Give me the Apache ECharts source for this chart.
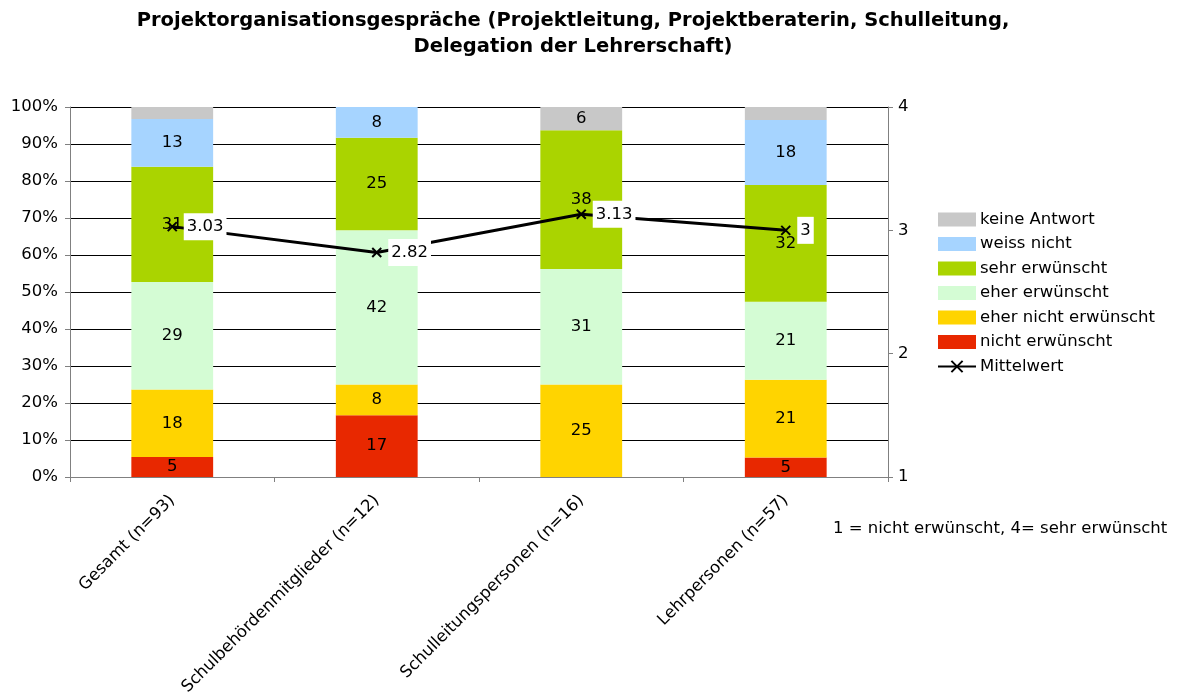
<!DOCTYPE html>
<html><head><meta charset="utf-8">
<script src="https://cdn.jsdelivr.net/npm/echarts@6/dist/echarts.min.js"></script>
<style>html,body{margin:0;padding:0;background:#fff}#c{width:1178px;height:695px}</style>
</head><body><div id="c"></div>
<script>
const categories = ['Gesamt (n=93)', 'Schulbehördenmitglieder (n=12)', 'Schulleitungspersonen (n=16)', 'Lehrpersonen (n=57)'];
const nichtErwuenscht = [5.38, 16.67, 0, 5.26];
const eherNichtErwuenscht = [18.28, 8.33, 25.0, 21.05];
const eherErwuenscht = [29.03, 41.67, 31.25, 21.05];
const sehrErwuenscht = [31.18, 25.0, 37.5, 31.58];
const weissNicht = [12.90, 8.33, 0, 17.54];
const keineAntwort = [3.23, 0, 6.25, 3.51];
const mittelwert = [3.03, 2.82, 3.13, 3];
const leftTicks = ['0%','10%','20%','30%','40%','50%','60%','70%','80%','90%','100%'];

const FONT = '"DejaVu Sans", sans-serif';
const FS = 16.5;
const chart = echarts.init(document.getElementById('c'));

function barSeries(name, data, color) {
  return {
    name, type: 'bar', stack: 'a', data, barWidth: '40%',
    itemStyle: { color },
    label: {
      show: true, position: 'inside', color: '#000', fontFamily: FONT, fontSize: FS,
      formatter: p => p.value >= 4 ? Math.round(p.value) : ''
    },
    emphasis: { disabled: true }
  };
}

chart.setOption({
  animation: false,
  title: {
    text: 'Projektorganisationsgespräche (Projektleitung, Projektberaterin, Schulleitung,\nDelegation der Lehrerschaft)',
    left: 568, top: 3, textAlign: 'center',
    textStyle: { fontFamily: FONT, fontWeight: 'bold', fontSize: 19.5, lineHeight: 26, color: '#000' }
  },
  grid: { left: 70, right: 290, top: 107, bottom: 218, outerBoundsMode: 'none', containLabel: false },
  legend: {
    orient: 'vertical', left: 932, top: 206, itemWidth: 38, itemHeight: 14, itemGap: 7.5,
    textStyle: { fontFamily: FONT, fontSize: FS, color: '#000', padding: [0,0,0,-1] },
    data: [
      { name: 'keine Antwort', icon: 'rect' }, { name: 'weiss nicht', icon: 'rect' }, { name: 'sehr erwünscht', icon: 'rect' },
      { name: 'eher erwünscht', icon: 'rect' }, { name: 'eher nicht erwünscht', icon: 'rect' }, { name: 'nicht erwünscht', icon: 'rect' },
      { name: 'Mittelwert' }
    ]
  },
  xAxis: {
    type: 'category', data: categories,
    axisLine: { lineStyle: { color: '#808080', width: 1 } },
    axisTick: { show: true, length: 5, lineStyle: { color: '#808080' } },
    axisLabel: { rotate: 45, fontFamily: FONT, fontSize: FS, color: '#000', margin: 21 }
  },
  yAxis: [
    {
      type: 'value', min: 0, max: 100, interval: 10,
      axisLine: { show: true, lineStyle: { color: '#808080' } },
      axisTick: { show: true, length: 5, lineStyle: { color: '#808080' } },
      splitLine: { lineStyle: { color: '#000', width: 1 } },
      axisLabel: { fontFamily: FONT, fontSize: FS, color: '#000', margin: 12,
        formatter: v => leftTicks[Math.round(v / 10)] }
    },
    {
      type: 'value', min: 1, max: 4, interval: 1, position: 'right',
      axisLine: { show: true, lineStyle: { color: '#808080' } },
      axisTick: { show: true, length: 5, lineStyle: { color: '#808080' } },
      splitLine: { show: false },
      axisLabel: { fontFamily: FONT, fontSize: FS, color: '#000', margin: 10 }
    }
  ],
  series: [
    barSeries('nicht erwünscht', nichtErwuenscht, '#E82800'),
    barSeries('eher nicht erwünscht', eherNichtErwuenscht, '#FFD400'),
    barSeries('eher erwünscht', eherErwuenscht, '#D4FCD4'),
    barSeries('sehr erwünscht', sehrErwuenscht, '#AAD400'),
    barSeries('weiss nicht', weissNicht, '#A6D4FF'),
    barSeries('keine Antwort', keineAntwort, '#C8C8C8'),
    {
      name: 'Mittelwert', type: 'line', yAxisIndex: 1, data: mittelwert, z: 10,
      symbol: 'path://M0,0L10,10M10,0L0,10', symbolSize: 9,
      itemStyle: { color: '#000', borderColor: '#000', borderWidth: 2 },
      lineStyle: { color: '#000', width: 3 },
      label: {
        show: true, position: 'right', distance: 6, color: '#000', fontFamily: FONT, fontSize: FS,
        backgroundColor: '#fff', padding: [5, 3, 5, 3]
      },
      emphasis: { disabled: true }
    }
  ],
  graphic: [{
    type: 'text', left: 833, top: 520,
    style: { text: '1 = nicht erwünscht, 4= sehr erwünscht', fontFamily: FONT, fontSize: FS, fill: '#000' }
  }]
});
</script></body></html>
